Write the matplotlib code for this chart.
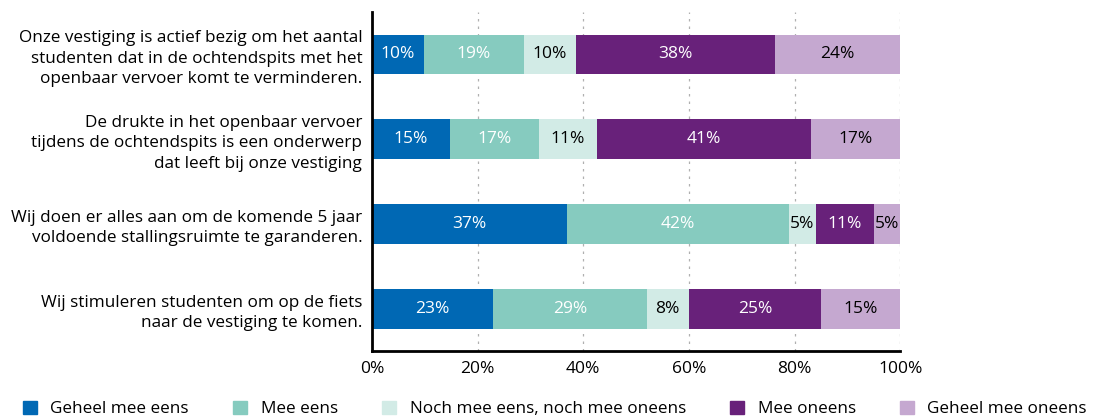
import numpy as np
import matplotlib.pyplot as plt
from matplotlib.patches import Patch

plt.rcParams["font.family"] = ["Open Sans", "DejaVu Sans"]

statements = [
    "Onze vestiging is actief bezig om het aantal\nstudenten dat in de ochtendspits met het\nopenbaar vervoer komt te verminderen.",
    "De drukte in het openbaar vervoer\ntijdens de ochtendspits is een onderwerp\ndat leeft bij onze vestiging",
    "Wij doen er alles aan om de komende 5 jaar\nvoldoende stallingsruimte te garanderen.",
    "Wij stimuleren studenten om op de fiets\nnaar de vestiging te komen.",
]
categories = ["Geheel mee eens", "Mee eens", "Noch mee eens, noch mee oneens",
              "Mee oneens", "Geheel mee oneens"]
geheel_eens = [10, 15, 37, 23]
eens = [19, 17, 42, 29]
neutraal = [10, 11, 5, 8]
oneens = [38, 41, 11, 25]
geheel_oneens = [24, 17, 5, 15]

colors = ["#0068b4", "#86cbbf", "#d2ebe6", "#68217a", "#c5a8d0"]
text_colors = ["white", "white", "black", "white", "black"]

series = np.array([geheel_eens, eens, neutraal, oneens, geheel_oneens], dtype=float)
# rows add up to 100-101 because of rounding, scale bar widths to 100
widths = series / series.sum(axis=0) * 100

fig = plt.figure(figsize=(11.1, 4.18), dpi=100)
ax = fig.add_axes([0.335, 0.16, 0.476, 0.811])

y = np.arange(len(statements))
left = np.zeros(len(statements))
for i in range(len(categories)):
    bars = ax.barh(y, widths[i], left=left, height=0.47, color=colors[i], zorder=2)
    ax.bar_label(bars, labels=[f"{int(v)}%" for v in series[i]], label_type="center",
                 color=text_colors[i], fontsize=12.5)
    left += widths[i]

ax.set_ylim(3.5, -0.5)
ax.set_xlim(0, 100)
ax.set_yticks(y)
ax.set_yticklabels(statements, fontsize=12.3, linespacing=1.35)
ax.set_xticks([0, 20, 40, 60, 80, 100])
ax.set_xticklabels(["0%", "20%", "40%", "60%", "80%", "100%"], fontsize=12.5)
ax.tick_params(length=0)
ax.tick_params(axis="x", pad=7)
ax.tick_params(axis="y", pad=7)
ax.xaxis.grid(True, linestyle=(0, (2, 4)), color="#b0b0b0", linewidth=0.9, zorder=0)
for s in ["top", "right"]:
    ax.spines[s].set_visible(False)
for s in ["left", "bottom"]:
    ax.spines[s].set_linewidth(2)
    ax.spines[s].set_zorder(3)

handles = [Patch(color=c) for c in colors]
fig.legend(handles, categories, loc="lower center", bbox_to_anchor=(0.5, -0.035), ncol=5,
           frameon=False, fontsize=12.3, handlelength=0.8, handleheight=0.8,
           columnspacing=2.6, handletextpad=0.8)

fig.savefig("out.png", dpi=100)
